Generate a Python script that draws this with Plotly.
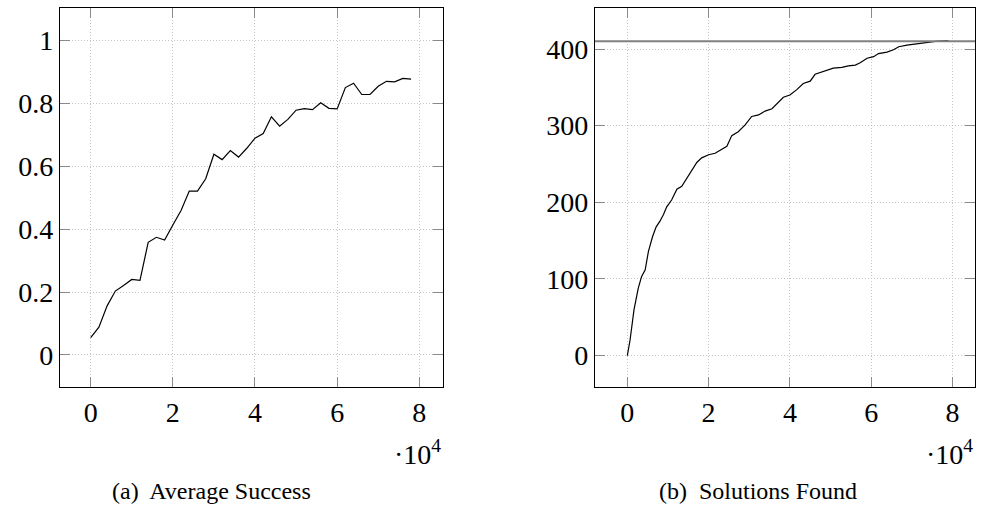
import plotly.graph_objects as go

# Left panel: Average Success
succ_x = [0, 2000, 4000, 6000, 8000, 10000, 12000, 14000, 16000, 18000,
          20000, 22000, 24000, 26000, 28000, 30000, 32000, 34000, 36000, 38000,
          40000, 42000, 44000, 46000, 48000, 50000, 52000, 54000, 56000, 58000,
          60000, 62000, 64000, 66000, 68000, 70000, 72000, 74000, 76000, 78000]
succ_y = [0.055, 0.088, 0.156, 0.203, 0.221, 0.240, 0.237, 0.358, 0.374, 0.365,
          0.413, 0.459, 0.521, 0.521, 0.560, 0.638, 0.621, 0.650, 0.629, 0.657,
          0.689, 0.704, 0.757, 0.727, 0.749, 0.778, 0.783, 0.780, 0.802, 0.784,
          0.782, 0.850, 0.864, 0.828, 0.828, 0.854, 0.870, 0.868, 0.879, 0.877]

# Right panel: Solutions Found
sol_x = [0, 670, 1650, 2700, 3500, 4400, 5200, 6200, 7100, 8000, 8900, 9700,
         10900, 12200, 13400, 14600, 15900, 17100, 18300, 20000, 21600, 22800,
         24500, 25700, 27300, 29000, 30600, 32300, 33900, 35600, 36800, 38400,
         40000, 41700, 43300, 45000, 46200, 47900, 49500, 50700, 52800, 54400,
         56100, 57300, 59000, 60600, 61800, 63900, 65500, 66800, 68800, 72900,
         75800, 79000]
sol_y = [0, 20, 60, 88, 103, 112, 136, 155, 168, 175, 184, 194,
         203, 217, 221, 231, 242, 252, 258, 262, 264, 268,
         273, 287, 292, 301, 312, 314, 319, 322, 329, 337,
         340, 347, 355, 358, 367, 370, 372, 375, 376, 378,
         379, 382, 388, 390, 394, 396, 399, 403, 405, 408,
         410, 411]
total_solutions = 410

x_tickvals = [0, 20000, 40000, 60000, 80000]
x_ticktext = ["0", "2", "4", "6", "8"]
left_yticks = [0, 0.2, 0.4, 0.6, 0.8, 1]
right_yticks = [0, 100, 200, 300, 400]
captions = ["(a)  Average Success", "(b)  Solutions Found"]

W, H = 981, 514
SERIF = "Liberation Serif"
TICKFONT = dict(family=SERIF, size=28, color="black")

fig = go.Figure()
fig.add_trace(go.Scatter(x=succ_x, y=succ_y, mode="lines",
                         line=dict(color="black", width=1.2),
                         xaxis="x", yaxis="y", showlegend=False))
fig.add_trace(go.Scatter(x=sol_x, y=sol_y, mode="lines",
                         line=dict(color="black", width=1.2),
                         xaxis="x2", yaxis="y2", showlegend=False))

common = dict(showline=True, linecolor="black", linewidth=1.2, mirror="allticks",
              ticks="inside", ticklen=10, tickcolor="#8a8a8a", tickwidth=1,
              showgrid=True, gridcolor="#c4c4c4", griddash="1px,2px", gridwidth=1,
              zeroline=False, tickfont=TICKFONT)

def px_dom(a, b, total, flip=False):
    if flip:
        return [1 - b / total, 1 - a / total]
    return [a / total, b / total]

fig.update_layout(
    width=W, height=H, margin=dict(l=0, r=0, t=0, b=0),
    paper_bgcolor="white", plot_bgcolor="white",
    font=dict(family=SERIF, color="black"),
    xaxis=dict(domain=px_dom(60, 443, W), range=[-7470, 85770],
               tickvals=x_tickvals, ticktext=x_ticktext, anchor="y", **common),
    yaxis=dict(domain=px_dom(8, 387, H, flip=True), range=[-0.102, 1.103],
               tickvals=left_yticks, anchor="x", **common),
    xaxis2=dict(domain=px_dom(595, 975, W), range=[-7950, 85550],
                tickvals=x_tickvals, ticktext=x_ticktext, anchor="y2", **common),
    yaxis2=dict(domain=px_dom(8, 387, H, flip=True), range=[-41, 453.5],
                tickvals=right_yticks, anchor="x2", **common),
)

fig.add_shape(type="line", xref="x2 domain", yref="y2", x0=0, x1=1,
              y0=total_solutions, y1=total_solutions,
              line=dict(color="#808080", width=2))

for xr in ["x domain", "x2 domain"]:
    fig.add_annotation(text="·10<sup>4</sup>", xref=xr, yref="paper",
                       x=1.0, y=1 - 452 / H, xanchor="right", yanchor="middle",
                       showarrow=False, font=TICKFONT)

for cx, txt in zip([211, 758], captions):
    fig.add_annotation(text=txt, xref="paper", yref="paper",
                       x=cx / W, y=1 - 491 / H, xanchor="center", yanchor="middle",
                       showarrow=False,
                       font=dict(family=SERIF, size=24, color="black"))

fig.write_html("out.html")
